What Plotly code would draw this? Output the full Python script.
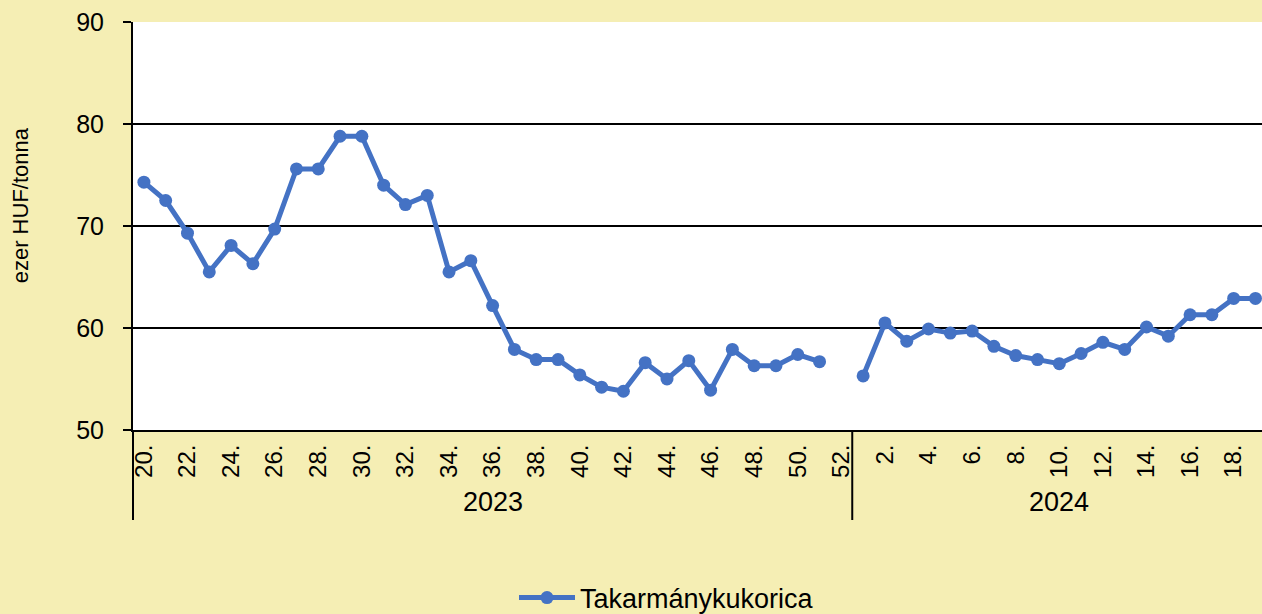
import plotly.graph_objects as go

weeks_2023 = list(range(20, 53))
weeks_2024 = list(range(1, 20))

values_2023 = [74.3, 72.5, 69.3, 65.5, 68.1, 66.3, 69.7, 75.6, 75.6, 78.8, 78.8,
               74.0, 72.1, 73.0, 65.5, 66.6, 62.2, 57.9, 56.9, 56.9, 55.4, 54.2,
               53.8, 56.6, 55.0, 56.8, 53.9, 57.9, 56.3, 56.3, 57.4, 56.7, None]
values_2024 = [55.3, 60.5, 58.7, 59.9, 59.5, 59.7, 58.2, 57.3, 56.9, 56.5, 57.5,
               58.6, 57.9, 60.1, 59.2, 61.3, 61.3, 62.9, 62.9]

years = ["2023", "2024"]
series_name = "Takarmánykukorica"
y_title = "ezer HUF/tonna"

cats = [f"2023-{w}" for w in weeks_2023] + [f"2024-{w}" for w in weeks_2024]
vals = values_2023 + values_2024

tickvals = [f"2023-{w}" for w in weeks_2023 if w % 2 == 0] + [f"2024-{w}" for w in weeks_2024 if w % 2 == 0]
ticktext = [f"{w}." for w in weeks_2023 if w % 2 == 0] + [f"{w}." for w in weeks_2024 if w % 2 == 0]

FONT = "Arial, Liberation Sans, sans-serif"
BLUE = "#4472C4"
BG = "#F5EEB4"

fig = go.Figure()
fig.add_trace(go.Scatter(
    x=cats, y=vals, mode="lines+markers", name=series_name,
    line=dict(color=BLUE, width=5),
    marker=dict(color=BLUE, size=13),
    connectgaps=False,
))

n23 = len(weeks_2023)
n24 = len(weeks_2024)
split = n23 - 0.5

fig.update_layout(
    width=1262, height=614,
    margin=dict(l=133, r=0, t=22, b=184, autoexpand=False),
    paper_bgcolor=BG, plot_bgcolor="white",
    font=dict(family=FONT, size=24, color="black"),
    showlegend=True,
    legend=dict(orientation="h", xref="container", yref="container",
                x=514 / 1262, xanchor="left", y=(614 - 598) / 614, yanchor="middle",
                font=dict(size=27), bgcolor="rgba(0,0,0,0)", itemwidth=56),
    xaxis=dict(
        type="category", categoryorder="array", categoryarray=cats,
        range=[-0.5, len(cats) - 0.7],
        tickmode="array", tickvals=tickvals, ticktext=ticktext,
        tickangle=-90, ticks="", showgrid=False,
        showline=True, linecolor="black", linewidth=2,
        tickfont=dict(size=24), ticklabelstandoff=3, automargin=False,
    ),
    yaxis=dict(
        range=[50, 90], dtick=10, tick0=50,
        showgrid=True, gridcolor="black", gridwidth=2,
        showline=True, linecolor="black", linewidth=2,
        ticks="outside", ticklen=8, tickwidth=2, tickcolor="black",
        tickfont=dict(size=25), ticklabelstandoff=14, zeroline=False, automargin=False,
    ),
    shapes=[
        dict(type="line", xref="paper", yref="paper", x0=0, x1=0, y0=0, y1=-0.2206,
             line=dict(color="black", width=2)),
        dict(type="line", xref="x", yref="paper", x0=split, x1=split, y0=0, y1=-0.2206,
             line=dict(color="black", width=2)),
    ],
    annotations=[
        dict(text=years[0], xref="x", yref="paper", x=(n23 - 1) / 2, y=-0.176,
             showarrow=False, font=dict(size=27), xanchor="center", yanchor="middle"),
        dict(text=years[1], xref="x", yref="paper", x=n23 + (n24 - 1) / 2, y=-0.176,
             showarrow=False, font=dict(size=27), xanchor="center", yanchor="middle"),
        dict(text=y_title, xref="paper", yref="paper", x=-0.100, y=0.551,
             textangle=-90, showarrow=False, font=dict(size=22),
             xanchor="center", yanchor="middle"),
    ],
)

fig.write_html("out.html", config={"displayModeBar": False},
               post_script="document.body.style.margin='0';document.body.style.padding='0';")
